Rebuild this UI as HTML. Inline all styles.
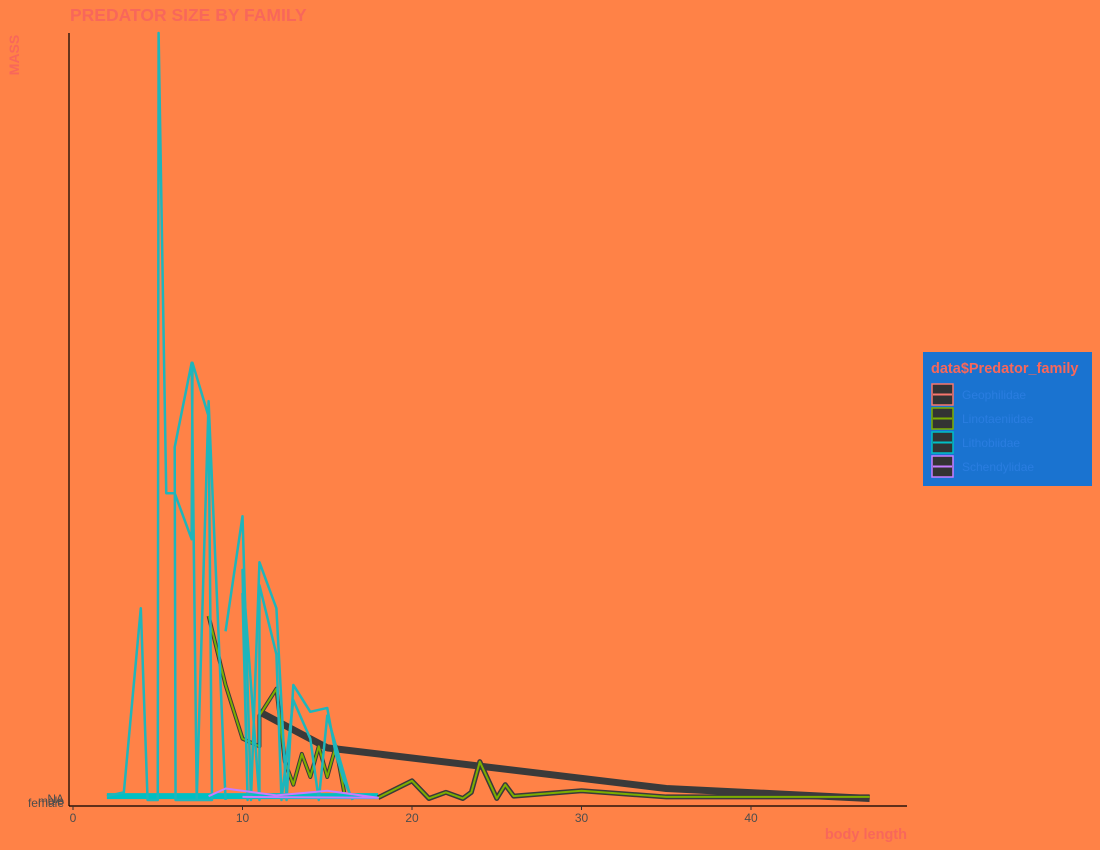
<!DOCTYPE html>
<html><head><meta charset="utf-8"><style>
body{margin:0;background:#ff8247;}
svg{display:block;font-family:"Liberation Sans",sans-serif;}
</style></head><body>
<svg width="1100" height="850" id="c">
<rect x="0" y="0" width="1100" height="850" fill="#ff8247"/>
<text x="70" y="21" font-size="17.5" font-weight="bold" fill="#f8675a">PREDATOR SIZE BY FAMILY</text>
<text transform="translate(19,55) rotate(-90)" text-anchor="middle" font-size="14" font-weight="bold" fill="#f8675a">MASS</text>
<text x="907" y="839" text-anchor="end" font-size="14.5" font-weight="bold" fill="#f8675a">body length</text>
<g id="marks"></g>
<line x1="69" y1="33" x2="69" y2="806" stroke="#000" stroke-width="1.2"/>
<line x1="69" y1="806" x2="907" y2="806" stroke="#000" stroke-width="1.2"/>
<g id="ticks" font-size="12" fill="#4d4d4d"></g>
<g>
<rect x="923" y="352" width="169" height="134" fill="#1a73d0"/>
<text x="931" y="373" font-size="14.5" font-weight="bold" fill="#f8675a">data$Predator_family</text>
<g id="leg"></g>
</g>
</svg>
<script>
const categories=["Geophilidae","Linotaeniidae","Lithobiidae","Schendylidae"];
const colors=["#f8766d","#7cae00","#00bfc4","#c77cff"];
const xTicks=[0,10,20,30,40];
const yTickLabels=["NA","male","female"];
// [body length, mass]
const darkBand=[[11,11.5],[15,6.8],[35,1.5],[47,0.2]];
const lithoA=[[2,0.5],[3,1],[4,25],[4.4,0],[5,0],[5.05,100],[5.5,40],[6,40],[7,34],[7.05,57],[8,50],[8.2,0],[7,0],[6.05,0],[6,46],[7,57],[7.3,0],[8,52],[9,0]];
const lithoB=[[9,22],[10,37],[10.5,0],[11,31],[12,25],[12.6,0],[13,15],[14,11.5],[15,12],[15.5,6],[16,2.5],[16.5,0]];
const lithoC=[[10,27],[10.3,0],[10,30],[11,0],[11,28],[12,19],[12.3,0],[13,13],[14,8],[14.5,0],[15,11],[16.3,1]];
const lithoBase=[[2,0.5],[18,0.5]];
const linoA=[[8,24],[9,15],[10,8],[11,7],[11,11],[12,14.5],[12.5,5],[13,2],[13.5,6],[14,3],[14.5,7],[15,3],[15.5,7],[16,1]];
const linoB=[[18,0.3],[20,2.5],[21,0.2],[22,1],[23,0.2],[23.5,1],[24,5],[25,0.2],[25.5,2],[26,0.5],[30,1.2],[35,0.4],[47,0.4]];
const schend=[[8,0.5],[9,1.5],[12,0.6],[14,1],[15,1.2],[18,0.3],[10,0.4]];
const X=v=>73+v*16.95, Y=v=>800-v*7.67;
const NS="http://www.w3.org/2000/svg";
const marks=document.getElementById('marks');
function line(pts,col,w,name){
 const p=document.createElementNS(NS,'polyline');
 p.setAttribute('points',pts.map(d=>X(d[0])+','+Y(d[1])).join(' '));
 p.setAttribute('fill','none');p.setAttribute('stroke',col);p.setAttribute('stroke-width',w);p.setAttribute('stroke-linejoin','round');
 
 
 marks.appendChild(p);
}
line(lithoBase,"#00bfc4",6,'lithobiidae-base');
line(darkBand,"#3a3a3a",7,'geophilidae-band');
line(linoB,"#3a3a3a",5,'linotaeniidae-base-fill');
line(linoB,"#7cae00",2,'linotaeniidae-base-line');
line(linoA,"#3a3a3a",4,'linotaeniidae-fill');
line(linoA,"#7cae00",2,'linotaeniidae-line');
line(lithoA,"#1fb5bb",2.5,'lithobiidae-line-a');
line(lithoB,"#1fb5bb",2.5,'lithobiidae-line-b');
line(lithoC,"#1fb5bb",2.5,'lithobiidae-line-c');
line(schend,"#c77cff",2,'schendylidae-line');
const tk=document.getElementById('ticks');
xTicks.forEach(t=>{
 const l=document.createElementNS(NS,'line');
 l.setAttribute('x1',X(t));l.setAttribute('x2',X(t));l.setAttribute('y1',806);l.setAttribute('y2',810);l.setAttribute('stroke','#333');
 
 
 tk.appendChild(l);
 const s=document.createElementNS(NS,'text');
 s.setAttribute('x',X(t));s.setAttribute('y',822);s.setAttribute('text-anchor','middle');s.textContent=t;
 
 
 tk.appendChild(s);
});
yTickLabels.forEach((t,i)=>{
 const s=document.createElementNS(NS,'text');
 s.setAttribute('x',64);s.setAttribute('y',803+i*2);s.setAttribute('text-anchor','end');s.textContent=t;
 
 
 tk.appendChild(s);
});
const leg=document.getElementById('leg');
categories.forEach((c,i)=>{
 const y=384+i*24;
 const r=document.createElementNS(NS,'rect');
 r.setAttribute('x',932);r.setAttribute('y',y);r.setAttribute('width',21);r.setAttribute('height',21);r.setAttribute('fill','#333');r.setAttribute('stroke',colors[i]);r.setAttribute('stroke-width',1.5);
 
 
 leg.appendChild(r);
 const l=document.createElementNS(NS,'line');
 l.setAttribute('x1',933);l.setAttribute('x2',952);l.setAttribute('y1',y+10.5);l.setAttribute('y2',y+10.5);l.setAttribute('stroke',colors[i]);l.setAttribute('stroke-width',2);
 
 
 leg.appendChild(l);
 const s=document.createElementNS(NS,'text');
 s.setAttribute('x',962);s.setAttribute('y',y+15);s.setAttribute('font-size',12);s.setAttribute('fill','#2a7de0');s.textContent=c;
 
 
 leg.appendChild(s);
});
</script>
</body></html>
